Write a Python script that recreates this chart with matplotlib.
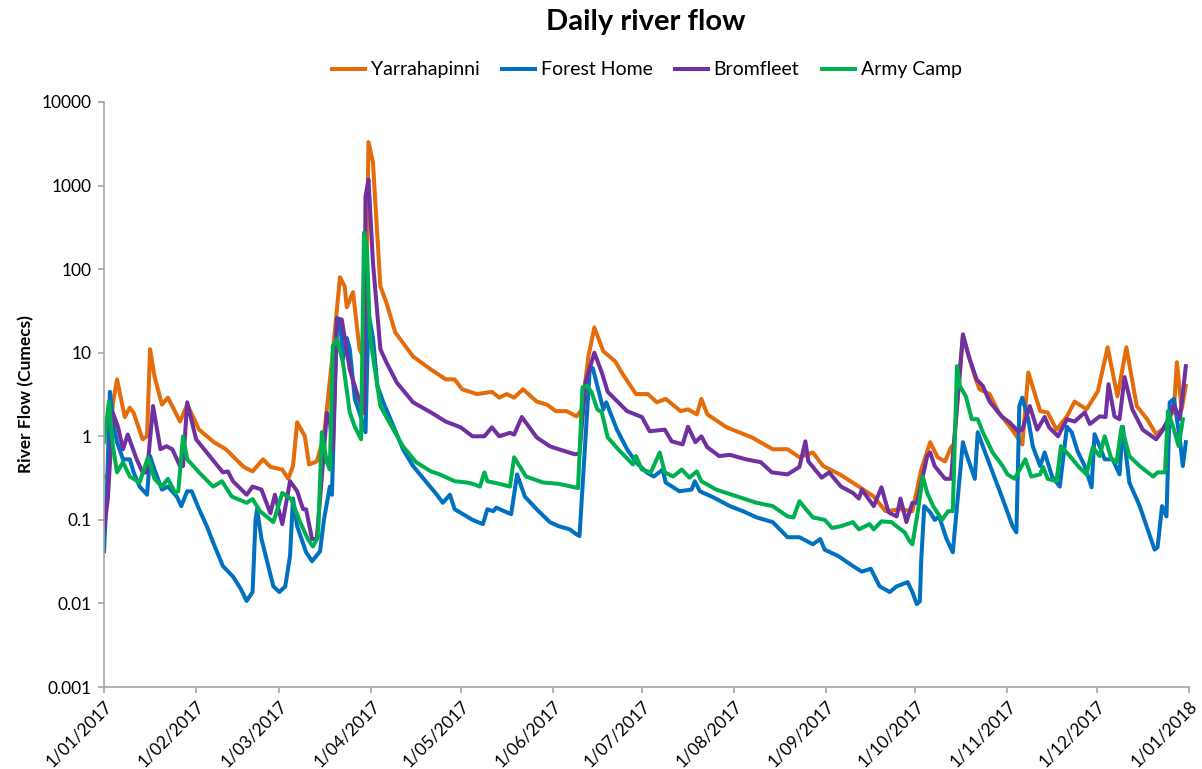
import pandas as pd
import matplotlib
matplotlib.use("Agg")
import matplotlib.pyplot as plt
from matplotlib.ticker import FixedLocator, NullLocator

# ------------------------------------------
# datos (dia del anio, caudal)
# ------------------------------------------

yarra_dias = [0, 1.5, 3, 4.4, 7, 8.7, 10, 13, 14.5, 15.5, 17, 19.5, 21.5, 25.6, 28, 32, 37, 41, 47, 50,
              53.5, 56, 60, 62, 63.6, 65, 67.6, 69, 71.6, 74, 77, 79.4, 81, 81.7, 83.8, 86, 88, 89, 90.5,
              93, 95, 98, 104, 110, 115, 118, 120.5, 125.5, 130.5, 133, 135.5, 138, 141, 145.6, 149, 152,
              155.7, 159, 160.8, 163, 165, 168, 172, 174.6, 179, 183, 186, 189, 194, 196.5, 199.5, 201,
              203, 209.5, 218, 225, 230, 234, 238.5, 242, 247.6, 254, 259, 263, 268, 272, 275, 278, 280.5,
              283, 285, 286, 289, 293, 294.6, 298, 301, 305.5, 309, 311, 315, 317.5, 320.5, 324, 326.6,
              330.6, 334.4, 337.7, 341, 344, 347.5, 351, 354, 357, 360, 361, 362.6, 364]
yarra_caudal = [0.32, 0.35, 2.5, 4.8, 1.7, 2.2, 1.9, 0.92, 1.0, 11, 5.2, 2.4, 2.9, 1.5, 2.4, 1.2, 0.85, 0.70,
                0.43, 0.38, 0.53, 0.43, 0.40, 0.31, 0.44, 1.47, 1.0, 0.46, 0.50, 1.0, 10, 80, 62, 35, 53, 11,
                7.7, 3300, 1900, 62, 40, 17.5, 9, 6.3, 4.8, 4.8, 3.65, 3.2, 3.4, 2.9, 3.2, 2.9, 3.65, 2.6,
                2.4, 2.0, 2.0, 1.73, 2.1, 9, 20, 10.4, 7.9, 5.5, 3.2, 3.2, 2.55, 2.8, 2.0, 2.1, 1.83, 2.8,
                1.83, 1.28, 0.97, 0.70, 0.70, 0.56, 0.64, 0.44, 0.35, 0.25, 0.19, 0.127, 0.134, 0.127, 0.40,
                0.85, 0.56, 0.50, 0.74, 0.8, 15.7, 5.2, 3.65, 3.2, 1.95, 1.2, 0.80, 5.8, 2.0, 1.93, 1.2,
                1.73, 2.6, 2.1, 3.45, 11.6, 3.0, 11.6, 2.3, 1.6, 1.06, 1.28, 2.1, 7.7, 2.1, 4.0]

forest_dias = [0, 1, 2, 3, 4.4, 6.4, 8.7, 10, 12, 14.5, 15.5, 17, 19.5, 21.5, 24.5, 26, 28, 29.5, 32, 34.6,
               36.7, 40, 43.4, 46, 48, 50, 51, 51.5, 53, 57, 59, 61, 62.6, 63.6, 65, 68, 70, 72.7, 74, 76,
               76.7, 78.4, 79.4, 80.4, 81.7, 82.7, 84.4, 86, 88, 89, 90.5, 92, 94, 96, 100.6, 104, 108.6,
               112, 114, 116.4, 118, 122, 124, 127.5, 129, 131, 132, 134, 137, 139, 141.6, 145.6, 150, 153,
               156.7, 159, 160, 163.5, 164.5, 168, 169, 172.6, 176, 179, 182.6, 185, 188, 189, 193.6,
               197.7, 198.8, 200.5, 205, 210.6, 215, 219.6, 225, 230, 234, 238.5, 241, 242.5, 247, 252,
               255, 258, 261, 264.4, 266.7, 270.4, 272, 273.5, 274.5, 275, 276, 278, 279.5, 281, 283.5,
               285.6, 289, 290, 293, 294, 295.7, 299, 302.4, 305.7, 307, 308, 309, 311, 312.5, 315, 316.5,
               319, 321.6, 324, 325.6, 327.6, 330, 332.3, 333.3, 335, 336.7, 339.4, 341.7, 342.8, 345,
               348.5, 350.8, 353.5, 354.5, 356, 357.5, 358.6, 360, 362, 363, 364]
forest_caudal = [0.042, 0.23, 3.4, 1.5, 0.85, 0.53, 0.53, 0.37, 0.25, 0.2, 0.58, 0.40, 0.23, 0.25, 0.19,
                 0.146, 0.22, 0.22, 0.134, 0.084, 0.054, 0.028, 0.021, 0.015, 0.0107, 0.0137, 0.10, 0.134,
                 0.059, 0.016, 0.0137, 0.016, 0.037, 0.18, 0.084, 0.041, 0.032, 0.042, 0.10, 0.25, 0.2, 26,
                 25, 8.3, 15, 11, 2.8, 1.9, 1.12, 30, 15, 4.0, 2.55, 1.73, 0.70, 0.44, 0.28, 0.2, 0.16, 0.2,
                 0.134, 0.11, 0.1, 0.089, 0.134, 0.127, 0.14, 0.13, 0.117, 0.35, 0.19, 0.134, 0.094, 0.084,
                 0.077, 0.067, 0.064, 6.9, 6.5, 2.1, 2.55, 1.2, 0.70, 0.49, 0.37, 0.33, 0.40, 0.28, 0.22,
                 0.23, 0.29, 0.22, 0.186, 0.146, 0.127, 0.107, 0.094, 0.062, 0.062, 0.051, 0.059, 0.044,
                 0.037, 0.028, 0.024, 0.026, 0.016, 0.0137, 0.016, 0.018, 0.0137, 0.0098, 0.0106, 0.034,
                 0.146, 0.123, 0.10, 0.11, 0.059, 0.041, 0.85, 0.64, 0.31, 1.12, 0.76, 0.37, 0.177, 0.084,
                 0.071, 2.3, 2.9, 1.6, 0.76, 0.44, 0.64, 0.33, 0.25, 1.3, 1.12, 0.66, 0.44, 0.245, 1.06,
                 0.76, 0.53, 0.53, 0.35, 1.3, 0.28, 0.146, 0.084, 0.044, 0.047, 0.146, 0.11, 2.55, 2.8,
                 0.92, 0.44, 0.85]

brom_dias = [0, 1.3, 3, 4.7, 6.4, 8, 11, 13, 14.5, 16.5, 19, 21, 23, 25.6, 26.6, 28, 31, 34.6, 40, 41.7,
             43.4, 48, 50, 53, 56, 57.5, 60, 62.6, 65, 67, 68, 70, 71.6, 73.7, 75, 76, 77, 78.4, 80, 82.7,
             85, 87.5, 88, 89, 90.5, 93, 95, 98.5, 104, 110, 115, 120, 124, 128, 130.5, 133, 136.6, 138,
             140.6, 145.6, 150, 153, 158.4, 160, 162, 165, 167.5, 169.5, 173, 176, 181, 183.6, 188.7, 191,
             194.7, 196.5, 199, 201, 203, 207, 210.6, 216, 221, 224.7, 230, 234, 236, 237, 241.5, 244, 248,
             252, 254, 255, 259, 261.6, 264, 266.7, 268, 270, 272, 273.5, 277, 278, 279.5, 283, 285, 289,
             291, 293.6, 295.7, 298, 302, 304.7, 307.5, 309, 311.5, 314, 316.5, 318, 321, 324, 326.6, 330,
             331.7, 335, 337, 338, 340, 341.7, 343.4, 346, 349.5, 354, 356, 358.6, 360, 362, 364]
brom_caudal = [0.077, 0.18, 1.9, 1.3, 0.70, 1.05, 0.53, 0.37, 0.37, 2.3, 0.70, 0.76, 0.70, 0.44, 0.44, 2.55,
               0.92, 0.64, 0.37, 0.38, 0.29, 0.20, 0.25, 0.23, 0.12, 0.2, 0.089, 0.29, 0.22, 0.134, 0.134,
               0.059, 0.059, 0.49, 1.9, 1.5, 0.70, 25, 25, 6.3, 3.4, 1.9, 740, 1180, 120, 11, 7.7, 4.4, 2.55,
               1.93, 1.5, 1.28, 1.0, 1.0, 1.28, 1.0, 1.1, 1.05, 1.7, 0.97, 0.76, 0.70, 0.61, 0.62, 4.4, 10,
               5.8, 3.4, 2.55, 2.0, 1.7, 1.15, 1.2, 0.87, 0.80, 1.3, 0.85, 1.0, 0.74, 0.58, 0.60, 0.53, 0.49,
               0.37, 0.35, 0.43, 0.87, 0.50, 0.32, 0.37, 0.25, 0.21, 0.18, 0.23, 0.146, 0.245, 0.123, 0.11,
               0.18, 0.094, 0.16, 0.16, 0.58, 0.64, 0.44, 0.31, 0.31, 16.6, 9, 4.8, 4.0, 2.6, 1.73, 1.47,
               1.15, 1.2, 2.3, 1.2, 1.7, 1.28, 1.0, 1.6, 1.5, 1.93, 1.4, 1.73, 1.7, 4.2, 1.73, 1.6, 5.1, 2.1,
               1.2, 0.92, 1.15, 1.73, 2.4, 1.6, 6.9]

army_dias = [0, 1.7, 3, 4.4, 6.4, 8.7, 12, 14.8, 17, 19.5, 21.5, 24, 25, 26.6, 28, 32, 36.7, 39.7, 43, 48,
             50, 52.5, 57, 60, 63, 66, 68.6, 70.3, 72, 73.3, 75, 76, 77, 78.4, 80.4, 82.7, 84.4, 86.5,
             87.5, 88.5, 89.5, 93, 96, 100.6, 105, 110, 113, 118, 122, 124, 126.5, 128, 129, 133, 136.6,
             138, 142, 147.7, 153, 158.4, 159.5, 161, 162.5, 164, 166, 167.5, 169.5, 173, 178, 179, 181,
             184, 187, 188.7, 191.5, 194.4, 197, 199.5, 201, 206, 214, 219.6, 225, 230, 232, 234, 238.5,
             242.5, 245, 248, 252, 254, 257.6, 259, 261.6, 265, 267, 269.4, 271, 272, 273.8, 275.5, 277,
             279, 282, 284, 285.6, 287, 288, 290, 292, 294, 295.7, 299, 302.4, 304, 306.4, 310, 312, 315,
             316, 317.5, 320.5, 322, 325, 328, 330.6, 332.7, 335, 336.7, 339, 340.7, 342.4, 345, 348.5,
             353, 354.5, 357, 358, 360, 361.6, 363]
army_caudal = [0.85, 2.6, 0.76, 0.37, 0.49, 0.33, 0.28, 0.56, 0.31, 0.25, 0.31, 0.21, 0.22, 1.0, 0.53, 0.37,
               0.25, 0.29, 0.19, 0.16, 0.177, 0.127, 0.094, 0.21, 0.177, 0.094, 0.059, 0.048, 0.062, 1.12,
               0.49, 0.40, 12, 14.5, 7.7, 1.93, 1.3, 0.92, 275, 170, 15.7, 2.3, 1.47, 0.76, 0.49, 0.38, 0.35,
               0.29, 0.28, 0.27, 0.25, 0.37, 0.29, 0.27, 0.25, 0.56, 0.33, 0.28, 0.27, 0.245, 0.24, 3.85,
               4.0, 3.4, 2.1, 1.93, 0.97, 0.70, 0.46, 0.58, 0.40, 0.37, 0.64, 0.37, 0.33, 0.40, 0.32, 0.38,
               0.29, 0.23, 0.186, 0.16, 0.146, 0.11, 0.107, 0.167, 0.107, 0.1, 0.08, 0.084, 0.094, 0.077,
               0.089, 0.077, 0.096, 0.094, 0.082, 0.071, 0.056, 0.051, 0.123, 0.33, 0.21, 0.146, 0.1,
               0.127, 0.127, 6.9, 4.0, 3.0, 1.6, 1.6, 1.12, 0.64, 0.44, 0.35, 0.31, 0.53, 0.33, 0.35,
               0.43, 0.31, 0.29, 0.76, 0.58, 0.43, 0.35, 0.74, 0.58, 1.0, 0.53, 0.49, 1.3, 0.58, 0.44,
               0.33, 0.37, 0.37, 2.0, 1.2, 0.76, 1.6]

nombres = ["Yarrahapinni", "Forest Home", "Bromfleet", "Army Camp"]
colores = ["#E46C0A", "#0070C0", "#7030A0", "#00B050"]

etiquetas_x = ["1/01/2017", "1/02/2017", "1/03/2017", "1/04/2017", "1/05/2017", "1/06/2017",
               "1/07/2017", "1/08/2017", "1/09/2017", "1/10/2017", "1/11/2017", "1/12/2017",
               "1/01/2018"]
etiquetas_y = ["0.001", "0.01", "0.1", "1", "10", "100", "1000", "10000"]

# ------------------------------------------
# grafico
# ------------------------------------------

plt.rcParams["font.family"] = ["Lato", "DejaVu Sans"]

inicio = pd.Timestamp("2017-01-01")

series = [
    (yarra_dias, yarra_caudal),
    (forest_dias, forest_caudal),
    (brom_dias, brom_caudal),
    (army_dias, army_caudal),
]

fig = plt.figure(figsize=(12.02, 7.69), dpi=100)
ax = fig.add_axes([0.0865, 0.1066, 0.9025, 0.7608])

for (dias, caudal), nombre, color in zip(series, nombres, colores):
    fechas = inicio + pd.to_timedelta(dias, unit="D")
    ax.plot(fechas, caudal, color=color, linewidth=2.9,
            solid_joinstyle="round", label=nombre)

ax.set_yscale("log")
ax.set_ylim(0.001, 10000)
ax.yaxis.set_major_locator(FixedLocator([float(v) for v in etiquetas_y]))
ax.yaxis.set_minor_locator(NullLocator())
ax.set_yticklabels(etiquetas_y)

fechas_ticks = [pd.Timestamp(2017 + (i // 12), (i % 12) + 1, 1) for i in range(13)]
ax.set_xlim(fechas_ticks[0], fechas_ticks[-1])
ax.set_xticks(fechas_ticks)
ax.set_xticklabels(etiquetas_x, rotation=45, ha="right",
                   rotation_mode="anchor")

for lado in ["top", "right"]:
    ax.spines[lado].set_visible(False)
for lado in ["left", "bottom"]:
    ax.spines[lado].set_color("#A6A6A6")
    ax.spines[lado].set_linewidth(1.2)

ax.tick_params(axis="both", colors="#A6A6A6", labelcolor="black",
               labelsize=12.5, length=4, width=1.2)
ax.tick_params(axis="y", pad=5)

ax.set_ylabel("River Flow (Cumecs)", fontsize=12.5, fontweight="bold",
              labelpad=5)

fig.text(0.537, 0.972, "Daily river flow", fontsize=21,
         fontweight="bold", ha="center", va="center")

fig.legend(loc="center", bbox_to_anchor=(0.538, 0.909), ncol=4,
           frameon=False, fontsize=14, handlelength=1.7,
           columnspacing=1.15, handletextpad=0.3)

fig.savefig("out.png", dpi=100)
